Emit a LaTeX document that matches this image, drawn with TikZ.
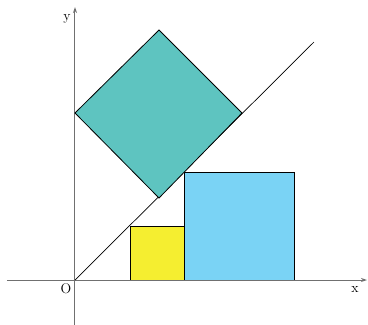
\documentclass[tikz,border=0pt]{standalone}
\usetikzlibrary{arrows.meta}
\definecolor{teal1}{HTML}{5EC4C0}
\definecolor{yel1}{HTML}{F5EE30}
\definecolor{blue1}{HTML}{7AD3F5}
\definecolor{axgray}{HTML}{707070}
\tikzset{
  axis/.style={draw=axgray, line width=1pt, -{Stealth[length=6pt,width=4pt]}},
  sq/.style={draw=black, line width=0.8pt},
  lbl/.style={font=\fontsize{14}{16}\selectfont, inner sep=0pt}
}
\begin{document}
\begin{tikzpicture}[x=1pt,y=-1pt]
\useasboundingbox (0,0) rectangle (368,325);
\coordinate (O) at (75,280);
\coordinate (xe) at (367,280);
\coordinate (xs) at (7,280);
\coordinate (ye) at (75,7);
\coordinate (ys) at (75,325);
\coordinate (de) at (314,42);
% squares
\fill[yel1] (130,226) rectangle (184,280);
\draw[sq] (130,280) -- (130,226) -- (184,226);
\draw[sq] (184,226) -- (184,280);
\draw[sq, fill=blue1] (184,172) rectangle (294,280);
% axes
\draw[axis] (xs) -- (xe);
\draw[axis] (ys) -- (ye);
% diagonal
\draw[black, line width=0.7pt] (O) -- (de);
% teal square
\draw[sq, fill=teal1] (75,113) -- (159,30) -- (242,113) -- (159,198) -- cycle;
% labels
\node[lbl] (ly) at (67,19) {y};
\node[lbl] (lx) at (355,289) {x};
\node[lbl] (lo) at (66,289) {O};
\end{tikzpicture}
\end{document}
